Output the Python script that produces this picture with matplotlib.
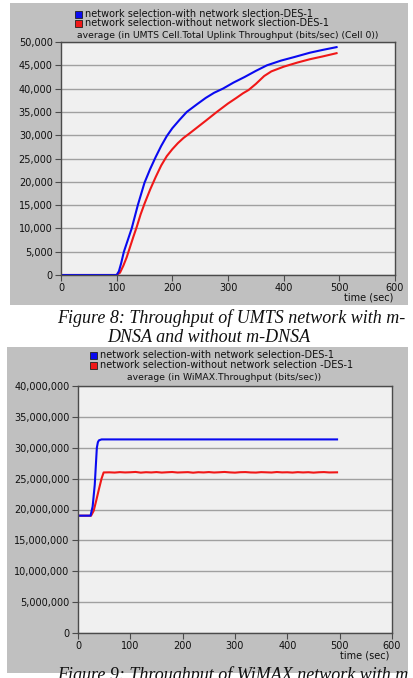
import matplotlib
matplotlib.use('Agg')
import matplotlib.pyplot as plt
from matplotlib.patches import Rectangle
from matplotlib.ticker import FuncFormatter, MultipleLocator

# ---------------- data ----------------
legend_umts = ["network selection-with network slection-DES-1",
               "network selection-without network slection-DES-1"]
title_umts = "average (in UMTS Cell.Total Uplink Throughput (bits/sec) (Cell 0))"
umts_with_t = [0, 100, 104, 108, 113, 127, 138, 150, 160, 170, 180, 190, 200, 213, 226,
               245, 260, 275, 291, 310, 330, 350, 370, 395, 420, 447, 470, 495]
umts_with_v = [0, 0, 800, 2500, 5000, 10000, 15000, 19800, 22700, 25300, 27700, 29800,
               31500, 33300, 35000, 36700, 38000, 39100, 40000, 41300, 42500, 43800, 45000,
               46000, 46800, 47700, 48300, 48900]
umts_without_t = [0, 100, 106, 112, 118, 124, 130, 136, 143, 150, 160, 170, 180, 190,
                  200, 210, 220, 230, 245, 260, 280, 300, 315, 327, 337, 350, 365, 378,
                  400, 425, 447, 470, 495]
umts_without_v = [0, 0, 500, 2000, 3800, 6000, 8200, 10300, 13000, 15300, 18300, 21000,
                  23500, 25500, 27000, 28300, 29400, 30300, 31700, 33100, 35000, 36800,
                  38000, 39000, 39700, 41000, 42700, 43700, 44700, 45600, 46300, 46900,
                  47600]

legend_wimax = ["network selection-with network selection-DES-1",
                "network selection-without network selection -DES-1"]
title_wimax = "average (in WiMAX.Throughput (bits/sec))"
wimax_with_t = [0, 24, 28, 32, 36, 38, 40, 45, 495]
wimax_with_v = [19.0e6, 19.0e6, 20.5e6, 24.0e6, 30.0e6, 30.9e6, 31.2e6, 31.35e6, 31.35e6]
wimax_without_t = [0, 25, 30, 35, 40, 45, 49, 60, 70, 80, 90, 100, 110, 120, 130, 140,
                   150, 160, 170, 180, 190, 200, 210, 220, 230, 240, 250, 260, 270, 280,
                   290, 300, 310, 320, 330, 340, 350, 360, 370, 380, 390, 400, 410, 420,
                   430, 440, 450, 460, 470, 480, 495]
wimax_without_v = [19.0e6, 19.0e6, 19.8e6, 21.5e6, 23.3e6, 25.0e6, 26.0e6, 26.02e6,
                   25.98e6, 26.05e6, 26.0e6, 26.03e6, 26.08e6, 25.97e6, 26.04e6, 26.0e6,
                   26.06e6, 25.98e6, 26.03e6, 26.07e6, 25.99e6, 26.02e6, 26.05e6, 25.96e6,
                   26.04e6, 26.0e6, 26.06e6, 25.99e6, 26.03e6, 26.08e6, 26.01e6, 25.97e6,
                   26.04e6, 26.06e6, 26.0e6, 25.98e6, 26.05e6, 26.02e6, 25.99e6, 26.07e6,
                   26.01e6, 26.03e6, 25.98e6, 26.05e6, 26.0e6, 26.04e6, 25.97e6, 26.03e6,
                   26.06e6, 26.0e6, 26.02e6]

caption1 = ["Figure 8: Throughput of UMTS network with m-", "DNSA and without m-DNSA"]
caption2 = "Figure 9: Throughput of WiMAX network with m"

# ---------------- style ----------------
W, H = 414, 678
GRAY = '#c0c0c0'
PLOT_BG = '#f0f0f0'
GRID = '#a0a0a0'
BLUE = '#0a0af0'
RED = '#f01818'
SANS = 'DejaVu Sans'
SERIF = 'Liberation Serif'
FS = 7.0
FS_TITLE = 6.7

fig = plt.figure(figsize=(W / 100, H / 100), dpi=100)
fig.patch.set_facecolor('white')


def fx(px):
    return px / W


def fy(py):
    return 1 - py / H


def panel(x0, y0, x1, y1):
    fig.patches.append(Rectangle((fx(x0), fy(y1)), (x1 - x0) / W, (y1 - y0) / H,
                                 transform=fig.transFigure, facecolor=GRAY,
                                 edgecolor='none', zorder=-5))


def legend(x, ys, labels, colors):
    for y, lab, c in zip(ys, labels, colors):
        fig.patches.append(Rectangle((fx(x), fy(y + 3.5)), 7 / W, 7 / H,
                                     transform=fig.transFigure, facecolor=c,
                                     edgecolor='#202020', lw=0.6, zorder=2))
        fig.text(fx(x + 10), fy(y), lab, ha='left', va='center', fontsize=FS,
                 family=SANS, color='#101010')


def setup_axes(rect, ymax, ystep):
    ax = fig.add_axes(rect)
    ax.set_zorder(1)
    ax.set_facecolor(PLOT_BG)
    ax.set_xlim(0, 600)
    ax.set_ylim(0, ymax)
    ax.xaxis.set_major_locator(MultipleLocator(100))
    ax.yaxis.set_major_locator(MultipleLocator(ystep))
    ax.yaxis.set_major_formatter(FuncFormatter(lambda v, p: f"{int(round(v)):,}"))
    ax.grid(axis='y', color=GRID, lw=1.0)
    ax.set_axisbelow(True)
    for s in ax.spines.values():
        s.set_color('#4a4a4a')
        s.set_linewidth(1.0)
    ax.tick_params(direction='out', length=4, width=0.8, color='#4a4a4a',
                   labelsize=FS, pad=2, labelcolor='#101010')
    for lab in ax.get_xticklabels() + ax.get_yticklabels():
        lab.set_family(SANS)
    return ax


# ---------------- chart 1 (UMTS) ----------------
panel(10, 3, 408, 305)
legend(75, [14, 23], legend_umts, [BLUE, RED])
fig.text(fx(228), fy(36), title_umts, ha='center', va='center', fontsize=FS_TITLE,
         family=SANS, color='#101010')
ax1 = setup_axes([fx(61), fy(275), 334 / W, 233 / H], 50000, 5000)
ax1.plot(umts_without_t, umts_without_v, color=RED, lw=1.5)
ax1.plot(umts_with_t, umts_with_v, color=BLUE, lw=1.5)
fig.text(fx(393), fy(297.5), 'time (sec)', ha='right', va='center', fontsize=FS,
         family=SANS, color='#101010')

fig.text(fx(57), fy(318), caption1[0], ha='left', va='center', fontsize=13,
         family=SERIF, style='italic', color='#101010')
fig.text(fx(107), fy(337), caption1[1], ha='left', va='center', fontsize=13,
         family=SERIF, style='italic', color='#101010')

# ---------------- chart 2 (WiMAX) ----------------
panel(7, 347, 408, 673)
legend(90, [355, 365], legend_wimax, [BLUE, RED])
fig.text(fx(224), fy(377), title_wimax, ha='center', va='center', fontsize=FS_TITLE,
         family=SANS, color='#101010')
ax2 = setup_axes([fx(78), fy(633), 314 / W, 247 / H], 40e6, 5e6)
ax2.plot(wimax_without_t, wimax_without_v, color=RED, lw=1.5)
ax2.plot(wimax_with_t, wimax_with_v, color=BLUE, lw=1.5)
fig.text(fx(389), fy(656), 'time (sec)', ha='right', va='center', fontsize=FS,
         family=SANS, color='#101010')

fig.text(fx(57), fy(666), caption2, ha='left', va='top', fontsize=13,
         family=SERIF, style='italic', color='#101010')

fig.savefig('out.png', dpi=100)
